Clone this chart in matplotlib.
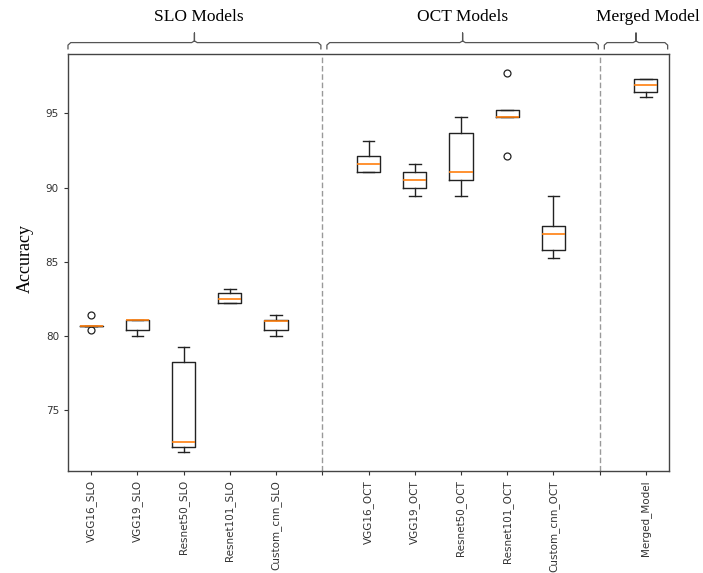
import matplotlib.pyplot as plt
from matplotlib.transforms import blended_transform_factory

# 模型名称 (三组)
slo_models = ["VGG16_SLO", "VGG19_SLO", "Resnet50_SLO", "Resnet101_SLO", "Custom_cnn_SLO"]
oct_models = ["VGG16_OCT", "VGG19_OCT", "Resnet50_OCT", "Resnet101_OCT", "Custom_cnn_OCT"]
merged_models = ["Merged_Model"]

# 每个模型 5 折的准确率
slo_acc = [
    [80.4, 80.7, 80.7, 80.7, 81.4],
    [80.0, 80.4, 81.1, 81.1, 81.1],
    [72.2, 72.55, 72.9, 78.25, 79.3],
    [82.2, 82.2, 82.5, 82.9, 83.2],
    [80.0, 80.4, 81.05, 81.1, 81.4],
]
oct_acc = [
    [91.06, 91.06, 91.58, 92.1, 93.15],
    [89.45, 90.0, 90.5, 91.06, 91.58],
    [89.45, 90.5, 91.06, 93.68, 94.72],
    [92.1, 94.72, 94.72, 95.23, 97.72],
    [85.28, 85.8, 86.85, 87.39, 89.45],
]
merged_acc = [
    [96.1, 96.42, 96.91, 97.29, 97.29],
]
group_titles = ["SLO Models", "OCT Models", "Merged Model"]


def draw_bracket(ax, x0, x1, title, text_shift=0.0):
    """在坐标轴上方画一个括号和组名"""
    tr = blended_transform_factory(ax.transData, ax.transAxes)
    y_end, y_line, y_tip = 1.012, 1.027, 1.050
    xm = (x0 + x1) / 2
    d = 0.06
    xs = [x0, x0, x0 + d, xm - d, xm, xm, xm, xm + d, x1 - d, x1, x1]
    ys = [y_end, y_line - 0.006, y_line, y_line, y_line + 0.004, y_tip,
          y_line + 0.004, y_line, y_line, y_line - 0.006, y_end]
    ax.plot(xs, ys, color="#555555", lw=0.9, transform=tr, clip_on=False)
    ax.text(xm + text_shift, 1.078, title, transform=tr, ha="center", va="baseline",
            family="Liberation Serif", fontsize=12.5)


fig = plt.figure(figsize=(7.03, 5.73), dpi=100)
ax = fig.add_axes([0.0967, 0.178, 0.855, 0.728])

# 计算位置: 每组之间空一格
groups = [slo_acc, oct_acc, merged_acc]
names = [slo_models, oct_models, merged_models]
data, labels, positions, seps = [], [], [], []
p = 1
for gi, (g, n) in enumerate(zip(groups, names)):
    for vals, name in zip(g, n):
        data.append(vals)
        labels.append(name)
        positions.append(p)
        p += 1
    if gi < len(groups) - 1:
        seps.append(p)
        p += 1

ax.boxplot(data, positions=positions, widths=0.5,
           boxprops=dict(color="#222222", lw=1.0),
           whiskerprops=dict(color="#222222", lw=1.0),
           capprops=dict(color="#222222", lw=1.0),
           medianprops=dict(color="#ff7f0e", lw=1.2),
           flierprops=dict(marker="o", markersize=5, markerfacecolor="none",
                           markeredgecolor="#222222", markeredgewidth=0.9))

# 组之间的虚线
for s in seps:
    ax.axvline(s, color="#999999", lw=1.0, linestyle=(0, (4, 2)))

all_ticks = list(range(1, p))
tick_labels = []
for t in all_ticks:
    tick_labels.append(labels[positions.index(t)] if t in positions else "")
ax.set_xticks(all_ticks)
ax.set_xticklabels(tick_labels, rotation=90)
ax.set_xlim(0.5, p - 0.5)
ax.tick_params(labelsize=7.5, length=3, width=0.8, colors="#333333")
for sp in ax.spines.values():
    sp.set_color("#444444")
    sp.set_linewidth(1.0)

# 括号
edges = [0.5] + seps + [p - 0.5]
shifts = [0.1, 0.0, 0.25]
for i, title in enumerate(group_titles):
    a = edges[i] + (0.1 if i > 0 else 0)
    b = edges[i + 1] - 0.03
    draw_bracket(ax, a, b, title, shifts[i])

fig.text(0.036, 0.548, "Accuracy", rotation=90, ha="center", va="center",
         family="Liberation Serif", fontsize=13)

plt.savefig("out.png", dpi=100)
